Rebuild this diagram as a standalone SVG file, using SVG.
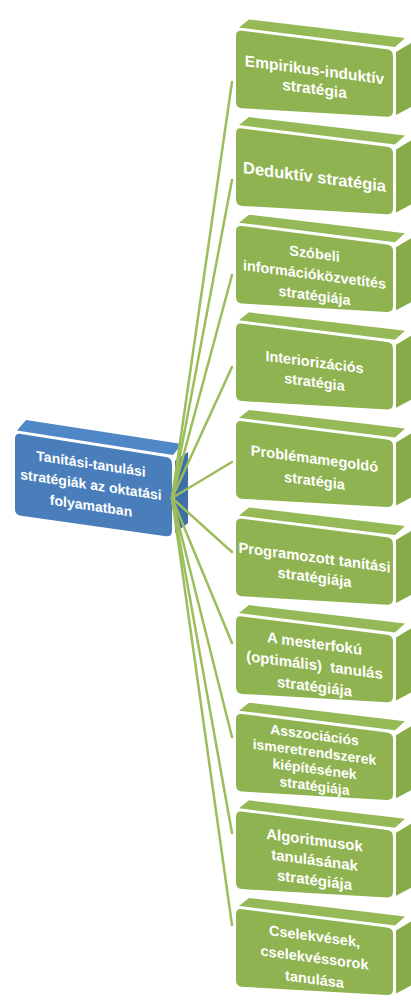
<svg xmlns="http://www.w3.org/2000/svg" xmlns:xlink="http://www.w3.org/1999/xlink" width="411" height="1004" viewBox="0 0 411 1004">
<defs>
<style>
.gf{fill:#8fb350}
.gtop{fill:#94b956}
.gside{fill:#87ab49}
.bf{fill:#4a7ebb}
.btop{fill:#5087c6}
.bside{fill:#3f6fa9}
.t{font-family:"Liberation Sans",Arial,sans-serif;font-weight:bold;fill:#ffffff;text-anchor:middle}
.conn{stroke:#9cbd5b;stroke-width:2.5;fill:none;stroke-linecap:round}
</style>
<path id="gfront" d="M0,6 Q0,0 6,0.8 L151,19.2 Q157,20 157,26 L157,81 Q157,87 151,86.7 L6,78.3 Q0,78 0,72 Z"/>
<polygon id="gtopf" points="3,-2.5 13,-10.5 169,8 159,17"/>
<polygon id="gsidef" points="160,22 175,13 175,77 160,85"/>
</defs>
<rect width="411" height="1004" fill="#ffffff"/>

<g id="box1" transform="translate(236,30)">
<use xlink:href="#gtopf" class="gtop"/><use xlink:href="#gsidef" class="gside"/><use xlink:href="#gfront" class="gf"/>
<g transform="translate(78.5,49.5) skewY(7.5)"><text class="t" font-size="15.5"><tspan x="0" y="-4.4">Empirikus-induktív</tspan><tspan x="0" y="14.6">stratégia</tspan></text></g>
</g>
<g id="box2" transform="translate(236,127.6)">
<use xlink:href="#gtopf" class="gtop"/><use xlink:href="#gsidef" class="gside"/><use xlink:href="#gfront" class="gf"/>
<g transform="translate(78.5,49.5) skewY(7.5)"><text class="t" font-size="16.5"><tspan x="0" y="5.4">Deduktív stratégia</tspan></text></g>
</g>
<g id="box3" transform="translate(236,225.2)">
<use xlink:href="#gtopf" class="gtop"/><use xlink:href="#gsidef" class="gside"/><use xlink:href="#gfront" class="gf"/>
<g transform="translate(78.5,49.5) skewY(7.5)"><text class="t" font-size="14.4"><tspan x="0" y="-16.2">Szóbeli</tspan><tspan x="0" y="4.8">információközvetítés</tspan><tspan x="0" y="25.8">stratégiája</tspan></text></g>
</g>
<g id="box4" transform="translate(236,322.8)">
<use xlink:href="#gtopf" class="gtop"/><use xlink:href="#gsidef" class="gside"/><use xlink:href="#gfront" class="gf"/>
<g transform="translate(78.5,49.5) skewY(7.5)"><text class="t" font-size="14.5"><tspan x="0" y="-5.2">Interiorizációs</tspan><tspan x="0" y="14.8">stratégia</tspan></text></g>
</g>
<g id="box5" transform="translate(236,420.4)">
<use xlink:href="#gtopf" class="gtop"/><use xlink:href="#gsidef" class="gside"/><use xlink:href="#gfront" class="gf"/>
<g transform="translate(78.5,49.5) skewY(7.5)"><text class="t" font-size="14.6"><tspan x="0" y="-6.2">Problémamegoldó</tspan><tspan x="0" y="15.8">stratégia</tspan></text></g>
</g>
<g id="box6" transform="translate(236,518)">
<use xlink:href="#gtopf" class="gtop"/><use xlink:href="#gsidef" class="gside"/><use xlink:href="#gfront" class="gf"/>
<g transform="translate(78.5,49.5) skewY(7.5)"><text class="t" font-size="14.8"><tspan x="0" y="-5.1">Programozott tanítási</tspan><tspan x="0" y="14.9">stratégiája</tspan></text></g>
</g>
<g id="box7" transform="translate(236,615.6)">
<use xlink:href="#gtopf" class="gtop"/><use xlink:href="#gsidef" class="gside"/><use xlink:href="#gfront" class="gf"/>
<g transform="translate(78.5,49.5) skewY(7.5)"><text class="t" font-size="15" xml:space="preserve"><tspan x="0" y="-16.5">A mesterfokú</tspan><tspan x="0" y="5">(optimális)  tanulás</tspan><tspan x="0" y="26.5">stratégiája</tspan></text></g>
</g>
<g id="box8" transform="translate(236,713.2)">
<use xlink:href="#gtopf" class="gtop"/><use xlink:href="#gsidef" class="gside"/><use xlink:href="#gfront" class="gf"/>
<g transform="translate(78.5,47.5) skewY(7.5)"><text class="t" font-size="14"><tspan x="0" y="-20.9">Asszociációs</tspan><tspan x="0" y="-3.9">ismeretrendszerek</tspan><tspan x="0" y="13.1">kiépítésének</tspan><tspan x="0" y="30.1">stratégiája</tspan></text></g>
</g>
<g id="box9" transform="translate(236,810.8)">
<use xlink:href="#gtopf" class="gtop"/><use xlink:href="#gsidef" class="gside"/><use xlink:href="#gfront" class="gf"/>
<g transform="translate(78.5,49.5) skewY(7.5)"><text class="t" font-size="15"><tspan x="0" y="-15">Algoritmusok</tspan><tspan x="0" y="5">tanulásának</tspan><tspan x="0" y="25">stratégiája</tspan></text></g>
</g>
<g id="box10" transform="translate(236,908.4)">
<use xlink:href="#gtopf" class="gtop"/><use xlink:href="#gsidef" class="gside"/><use xlink:href="#gfront" class="gf"/>
<g transform="translate(78.5,49.5) skewY(7.5)"><text class="t" font-size="14.5"><tspan x="0" y="-16.7">Cselekvések,</tspan><tspan x="0" y="4.8">cselekvéssorok</tspan><tspan x="0" y="26.3">tanulása</tspan></text></g>
</g>

<g id="center">
<polygon class="btop" points="17,430.5 26,420 182,444 173,455"/>
<polygon class="bside" points="175,461 188,452 188,523 175,533"/>
<path class="bf" d="M15,439 Q15,433 21,434 L166,457 Q172,458 172,464 L172,531 Q172,537 166,536.2 L21,515.8 Q15,515 15,509 Z"/>
<g transform="translate(91,485) skewY(8.5)"><text class="t" font-size="14"><tspan x="0" y="-16.4">Tanítási-tanulási</tspan><tspan x="0" y="4.6">stratégiák az oktatási</tspan><tspan x="0" y="25.6">folyamatban</tspan></text></g>
</g>

<g id="connectors">
<line class="conn" x1="172" y1="498" x2="232" y2="82"/>
<line class="conn" x1="172" y1="498" x2="232" y2="180"/>
<line class="conn" x1="172" y1="498" x2="232" y2="275"/>
<line class="conn" x1="172" y1="498" x2="232" y2="367"/>
<line class="conn" x1="172" y1="498" x2="232" y2="462"/>
<line class="conn" x1="172" y1="498" x2="232" y2="552"/>
<line class="conn" x1="172" y1="498" x2="232" y2="643"/>
<line class="conn" x1="172" y1="498" x2="232" y2="737"/>
<line class="conn" x1="172" y1="498" x2="232" y2="833"/>
<line class="conn" x1="172" y1="498" x2="232" y2="925"/>
</g>
</svg>
